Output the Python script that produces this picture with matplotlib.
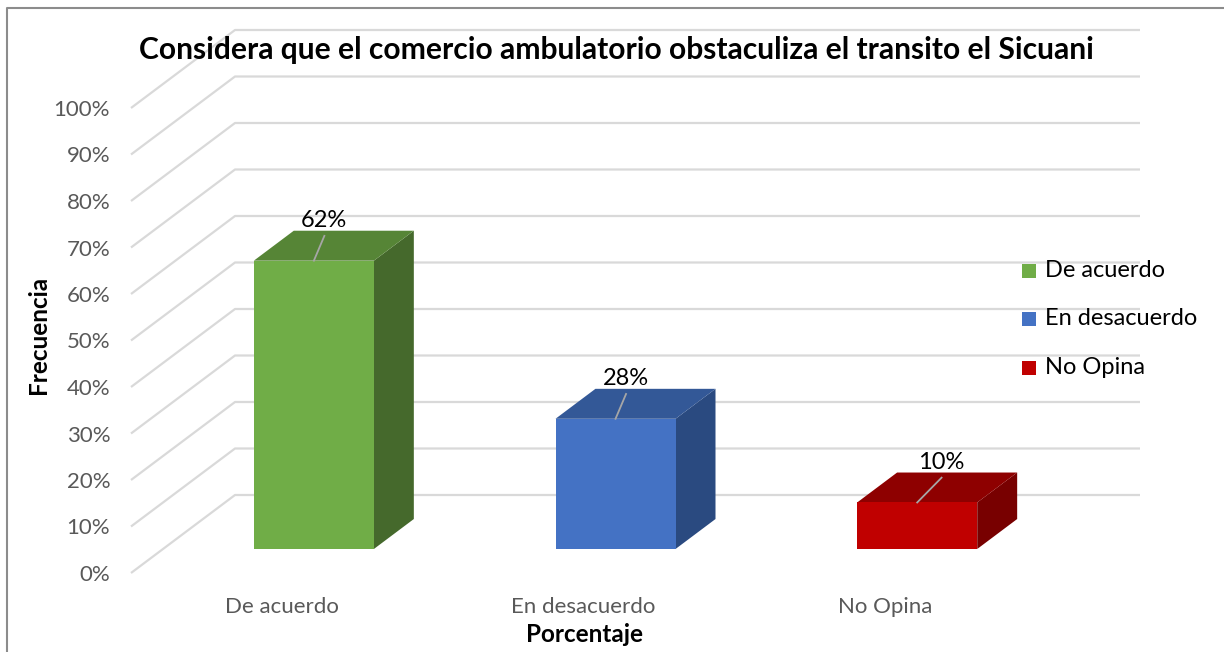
import matplotlib
matplotlib.use("Agg")
import matplotlib.pyplot as plt
from matplotlib.patches import Polygon, Rectangle
from matplotlib.ticker import FuncFormatter

# ---- data ----
categories = ["De acuerdo", "En desacuerdo", "No Opina"]
values = [62, 28, 10]
value_labels = ["62%", "28%", "10%"]
y_ticks = [0, 10, 20, 30, 40, 50, 60, 70, 80, 90, 100]
title = "Considera que el comercio ambulatorio obstaculiza el transito el Sicuani"
x_label = "Porcentaje"
y_label = "Frecuencia"

# ---- style ----
front_colors = ["#70AD47", "#4472C4", "#C00000"]
top_colors = ["#568536", "#335897", "#8E0000"]
side_colors = ["#45692C", "#2A4A80", "#780000"]
grid_color = "#D9D9D9"
FONT = ["Lato", "DejaVu Sans"]
plt.rcParams["font.family"] = FONT

W, H = 1224, 652
fig = plt.figure(figsize=(W / 100, H / 100), dpi=100)

# front plane of the 3-D box
x0p, x1p, y0p, y1p = 131, 1036, 573, 108
ax = fig.add_axes([x0p / W, (H - y0p) / H, (x1p - x0p) / W, (y0p - y1p) / H])
ax.set_xlim(-0.5, len(categories) - 0.5)
ax.set_ylim(0, 100)
for s in ax.spines.values():
    s.set_visible(False)

# depth vector (data units) of full wall depth
DX = 104 / ((x1p - x0p) / len(categories))
DY = 78 / ((y0p - y1p) / 100)
F0, F1 = 0.308, 0.692      # bar depth range
BW = 0.398                 # bar width

# gridlines: diagonal on floor/side + horizontal on back wall
xl, xr = -0.5, len(categories) - 0.5
for t in y_ticks:
    ax.plot([xl, xl + DX, xr + DX], [t, t + DY, t + DY], color=grid_color,
            lw=1.6, clip_on=False, zorder=1, solid_capstyle="butt")

# bars
for i, (v, fc, tc, sc) in enumerate(zip(values, front_colors, top_colors, side_colors)):
    xa0 = i - BW / 2 + F0 * DX
    xb0 = i + BW / 2 + F0 * DX
    xa1 = i - BW / 2 + F1 * DX
    xb1 = i + BW / 2 + F1 * DX
    ya0 = F0 * DY
    ya1 = F1 * DY
    ax.add_patch(Polygon([(xb0, ya0), (xb0, v + ya0), (xb1, v + ya1), (xb1, ya1)],
                         closed=True, fc=sc, ec="none", zorder=3, clip_on=False))
    ax.add_patch(Polygon([(xa0, v + ya0), (xb0, v + ya0), (xb1, v + ya1), (xa1, v + ya1)],
                         closed=True, fc=tc, ec="none", zorder=3, clip_on=False))
    ax.add_patch(Rectangle((xa0, ya0), BW, v, fc=fc, ec="none", zorder=4, clip_on=False))

# data labels with leader lines
lab_dx = [0.141, 0.141, 0.187]
for i, (v, lab) in enumerate(zip(values, value_labels)):
    xf = i + F0 * DX
    ax.plot([xf, i + lab_dx[i]], [v + F0 * DY, v + 10.5], color="#A6A6A6",
            lw=1.3, zorder=5, clip_on=False)
    ax.text(i + lab_dx[i], v + 11.5, lab, ha="center", va="bottom",
            fontsize=17, color="black", zorder=6)

# axes ticks
ax.set_yticks(y_ticks)
ax.yaxis.set_major_formatter(FuncFormatter(lambda v, p: f"{int(v)}%"))
ax.set_xticks(range(len(categories)))
ax.set_xticklabels(categories)
ax.tick_params(axis="y", length=0, pad=15, labelsize=16, labelcolor="#595959")
ax.tick_params(axis="x", length=0, pad=17, labelsize=16, labelcolor="#595959")

# titles
fig.text(616 / W, 1 - 50 / H, title, ha="center", va="center", fontsize=21.6,
         fontweight="bold", color="black")
fig.text(584 / W, 1 - 634 / H, x_label, ha="center", va="center", fontsize=17.5,
         fontweight="bold", color="black")
fig.text(38 / W, 1 - 335 / H, y_label, ha="center", va="center", fontsize=17.5,
         fontweight="bold", color="black", rotation=90)

# legend (manual)
leg_y = [271, 319, 368]
for c, lab, yy in zip(front_colors, categories, leg_y):
    fig.patches.append(Rectangle((1022 / W, 1 - (yy + 7) / H), 14 / W, 14 / H,
                                 transform=fig.transFigure, fc=c, ec="none"))
    fig.text(1045 / W, 1 - yy / H, lab, ha="left", va="center", fontsize=17,
             color="black")

# outer border (top + left)
fig.add_artist(plt.Line2D([7 / W, 7 / W, 1.0], [0, 1 - 8 / H, 1 - 8 / H],
                          transform=fig.transFigure, color="#8C8C8C", lw=1.5))

fig.savefig("out.png", dpi=100)
